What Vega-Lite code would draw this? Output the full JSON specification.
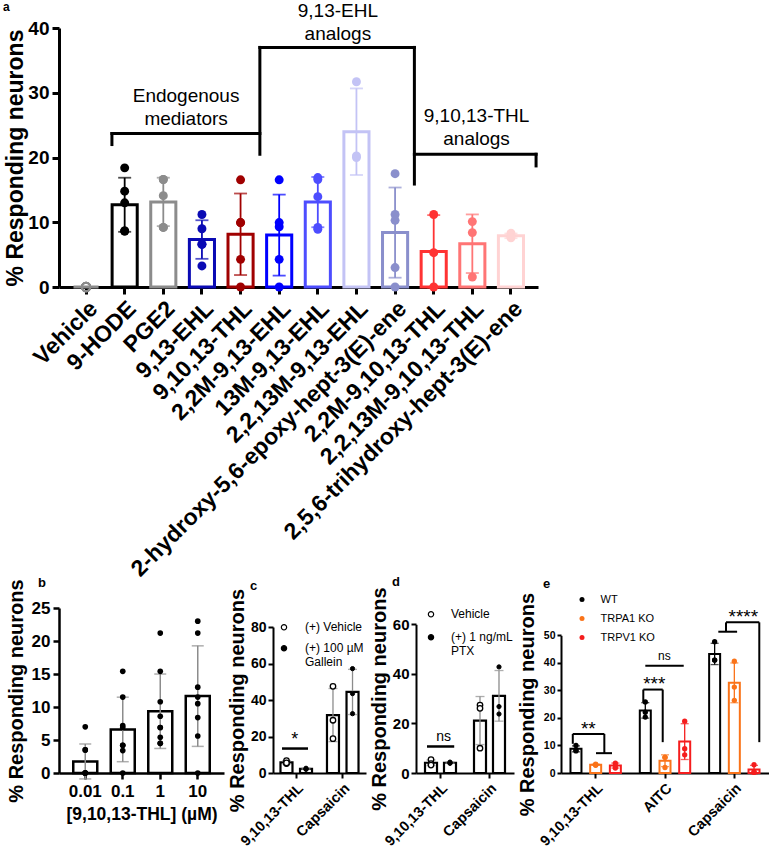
{
"$schema": "https://vega.github.io/schema/vega-lite/v6.json",
"background": "white",
"padding": {"left": 3, "top": 0, "right": 0, "bottom": 0},
"config": {
  "font": "Liberation Sans",
  "view": {"stroke": null},
  "axis": {"labelFont": "Liberation Sans", "titleFont": "Liberation Sans", "labelFontWeight": "bold", "titleFontWeight": "bold", "labelColor": "black", "titleColor": "black", "domainColor": "black", "tickColor": "black", "grid": false},
  "legend": {"labelFont": "Liberation Sans", "labelColor": "black", "labelFontWeight": "normal"},
  "title": {"font": "Liberation Sans", "fontWeight": "bold", "color": "black", "anchor": "start", "frame": "group"}
},
"datasets": {
  "a": [
    {"compound": "Vehicle", "value": 0}, {"compound": "Vehicle", "value": 0}, {"compound": "Vehicle", "value": 0}, {"compound": "Vehicle", "value": 0}, {"compound": "Vehicle", "value": 0},
    {"compound": "9-HODE", "value": 18.4}, {"compound": "9-HODE", "value": 14.8}, {"compound": "9-HODE", "value": 13.0}, {"compound": "9-HODE", "value": 8.65}, {"compound": "9-HODE", "value": 8.65},
    {"compound": "PGE2", "value": 16.6}, {"compound": "PGE2", "value": 16.6}, {"compound": "PGE2", "value": 14.1}, {"compound": "PGE2", "value": 9.2}, {"compound": "PGE2", "value": 9.2},
    {"compound": "9,13-EHL", "value": 11.2}, {"compound": "9,13-EHL", "value": 9.0}, {"compound": "9,13-EHL", "value": 6.6}, {"compound": "9,13-EHL", "value": 6.6}, {"compound": "9,13-EHL", "value": 3.25},
    {"compound": "9,10,13-THL", "value": 16.55}, {"compound": "9,10,13-THL", "value": 9.95}, {"compound": "9,10,13-THL", "value": 9.95}, {"compound": "9,10,13-THL", "value": 4.27}, {"compound": "9,10,13-THL", "value": 0},
    {"compound": "2,2M-9,13-EHL", "value": 16.55}, {"compound": "2,2M-9,13-EHL", "value": 9.3}, {"compound": "2,2M-9,13-EHL", "value": 9.95}, {"compound": "2,2M-9,13-EHL", "value": 4.27}, {"compound": "2,2M-9,13-EHL", "value": 0},
    {"compound": "13M-9,13-EHL", "value": 16.9}, {"compound": "13M-9,13-EHL", "value": 16.6}, {"compound": "13M-9,13-EHL", "value": 13.95}, {"compound": "13M-9,13-EHL", "value": 8.9}, {"compound": "13M-9,13-EHL", "value": 9.2},
    {"compound": "2,2,13M-9,13-EHL", "value": 31.7}, {"compound": "2,2,13M-9,13-EHL", "value": 20.0}, {"compound": "2,2,13M-9,13-EHL", "value": 20.25},
    {"compound": "2-hydroxy-5,6-epoxy-hept-3(E)-ene", "value": 17.5}, {"compound": "2-hydroxy-5,6-epoxy-hept-3(E)-ene", "value": 11.2}, {"compound": "2-hydroxy-5,6-epoxy-hept-3(E)-ene", "value": 10.3}, {"compound": "2-hydroxy-5,6-epoxy-hept-3(E)-ene", "value": 3.0}, {"compound": "2-hydroxy-5,6-epoxy-hept-3(E)-ene", "value": 0},
    {"compound": "2,2M-9,10,13-THL", "value": 11.2}, {"compound": "2,2M-9,10,13-THL", "value": 5.3}, {"compound": "2,2M-9,10,13-THL", "value": 0},
    {"compound": "2,2,13M-9,10,13-THL", "value": 10.1}, {"compound": "2,2,13M-9,10,13-THL", "value": 8.4}, {"compound": "2,2,13M-9,10,13-THL", "value": 1.55},
    {"compound": "2,5,6-trihydroxy-hept-3(E)-ene", "value": 8.3}, {"compound": "2,5,6-trihydroxy-hept-3(E)-ene", "value": 7.8}, {"compound": "2,5,6-trihydroxy-hept-3(E)-ene", "value": 7.6}
  ],
  "a_brk": [
    {"ax": 0.67, "ax2": 0.67, "value": 22.0, "value2": 23.7},
    {"ax": 0.67, "ax2": 4.5, "value": 23.7, "value2": 23.7},
    {"ax": 4.5, "ax2": 4.5, "value": 20.5, "value2": 37.0},
    {"ax": 4.5, "ax2": 8.5, "value": 37.0, "value2": 37.0},
    {"ax": 8.5, "ax2": 8.5, "value": 15.9, "value2": 37.0},
    {"ax": 8.5, "ax2": 11.65, "value": 20.5, "value2": 20.5},
    {"ax": 11.65, "ax2": 11.65, "value": 18.7, "value2": 20.5}
  ],
  "a_txt": [
    {"ax": 2.59, "value": 29.5, "label": "Endogenous\nmediators"},
    {"ax": 6.52, "value": 42.7, "label": "9,13-EHL\nanalogs"},
    {"ax": 10.11, "value": 26.4, "label": "9,10,13-THL\nanalogs"}
  ],
  "b": [
    {"conc": "0.01", "value": 7.0}, {"conc": "0.01", "value": 3.5}, {"conc": "0.01", "value": 3.5}, {"conc": "0.01", "value": 0}, {"conc": "0.01", "value": 0}, {"conc": "0.01", "value": 0}, {"conc": "0.01", "value": 0}, {"conc": "0.01", "value": 0},
    {"conc": "0.1", "value": 15.4}, {"conc": "0.1", "value": 11.5}, {"conc": "0.1", "value": 7.2}, {"conc": "0.1", "value": 6.9}, {"conc": "0.1", "value": 4.2}, {"conc": "0.1", "value": 4.2}, {"conc": "0.1", "value": 3.4}, {"conc": "0.1", "value": 0},
    {"conc": "1", "value": 21.2}, {"conc": "1", "value": 15.4}, {"conc": "1", "value": 10.8}, {"conc": "1", "value": 8.6}, {"conc": "1", "value": 6.9}, {"conc": "1", "value": 6.9}, {"conc": "1", "value": 5.4}, {"conc": "1", "value": 4.5}, {"conc": "1", "value": 4.5},
    {"conc": "10", "value": 23.0}, {"conc": "10", "value": 21.2}, {"conc": "10", "value": 13.0}, {"conc": "10", "value": 11.5}, {"conc": "10", "value": 10.5}, {"conc": "10", "value": 8.4}, {"conc": "10", "value": 5.6}, {"conc": "10", "value": 0}
  ],
  "c": [
    {"cat": "9,10,13-THL", "cond": "(+) Vehicle", "value": 5.2}, {"cat": "9,10,13-THL", "cond": "(+) Vehicle", "value": 6.8}, {"cat": "9,10,13-THL", "cond": "(+) Vehicle", "value": 5.5},
    {"cat": "9,10,13-THL", "cond": "(+) 100 µM Gallein", "value": 2.6}, {"cat": "9,10,13-THL", "cond": "(+) 100 µM Gallein", "value": 2.0}, {"cat": "9,10,13-THL", "cond": "(+) 100 µM Gallein", "value": 2.2},
    {"cat": "Capsaicin", "cond": "(+) Vehicle", "value": 47.5}, {"cat": "Capsaicin", "cond": "(+) Vehicle", "value": 28.9}, {"cat": "Capsaicin", "cond": "(+) Vehicle", "value": 18.8},
    {"cat": "Capsaicin", "cond": "(+) 100 µM Gallein", "value": 57.2}, {"cat": "Capsaicin", "cond": "(+) 100 µM Gallein", "value": 43.5}, {"cat": "Capsaicin", "cond": "(+) 100 µM Gallein", "value": 32.5}
  ],
  "c_ann": [{"ax": -0.306, "ax2": 0.253, "value": 13.4, "value2": 13.4}],
  "c_txt": [{"ax": -0.033, "value": 17.9, "label": "*"}],
  "d": [
    {"cat": "9,10,13-THL", "cond": "Vehicle", "value": 5.4}, {"cat": "9,10,13-THL", "cond": "Vehicle", "value": 3.8}, {"cat": "9,10,13-THL", "cond": "Vehicle", "value": 3.2},
    {"cat": "9,10,13-THL", "cond": "(+) 1 ng/mL PTX", "value": 4.4}, {"cat": "9,10,13-THL", "cond": "(+) 1 ng/mL PTX", "value": 4.1}, {"cat": "9,10,13-THL", "cond": "(+) 1 ng/mL PTX", "value": 3.9},
    {"cat": "Capsaicin", "cond": "Vehicle", "value": 27.4}, {"cat": "Capsaicin", "cond": "Vehicle", "value": 26.1}, {"cat": "Capsaicin", "cond": "Vehicle", "value": 10.0},
    {"cat": "Capsaicin", "cond": "(+) 1 ng/mL PTX", "value": 42.8}, {"cat": "Capsaicin", "cond": "(+) 1 ng/mL PTX", "value": 26.8}, {"cat": "Capsaicin", "cond": "(+) 1 ng/mL PTX", "value": 23.8}
  ],
  "d_ann": [{"ax": -0.276, "ax2": 0.28, "value": 10.7, "value2": 10.7}],
  "d_txt": [{"ax": 0.065, "value": 14.7, "label": "ns"}],
  "e": [
    {"cat": "9,10,13-THL", "geno": "WT", "value": 10.0}, {"cat": "9,10,13-THL", "geno": "WT", "value": 8.0}, {"cat": "9,10,13-THL", "geno": "WT", "value": 8.3},
    {"cat": "9,10,13-THL", "geno": "TRPA1 KO", "value": 3.2}, {"cat": "9,10,13-THL", "geno": "TRPA1 KO", "value": 3.0}, {"cat": "9,10,13-THL", "geno": "TRPA1 KO", "value": 2.8},
    {"cat": "9,10,13-THL", "geno": "TRPV1 KO", "value": 3.6}, {"cat": "9,10,13-THL", "geno": "TRPV1 KO", "value": 1.8}, {"cat": "9,10,13-THL", "geno": "TRPV1 KO", "value": 2.7},
    {"cat": "AITC", "geno": "WT", "value": 25.8}, {"cat": "AITC", "geno": "WT", "value": 20.3}, {"cat": "AITC", "geno": "WT", "value": 22.1},
    {"cat": "AITC", "geno": "TRPA1 KO", "value": 5.7}, {"cat": "AITC", "geno": "TRPA1 KO", "value": 5.7}, {"cat": "AITC", "geno": "TRPA1 KO", "value": 2.0},
    {"cat": "AITC", "geno": "TRPV1 KO", "value": 18.8}, {"cat": "AITC", "geno": "TRPV1 KO", "value": 8.8}, {"cat": "AITC", "geno": "TRPV1 KO", "value": 6.6},
    {"cat": "Capsaicin", "geno": "WT", "value": 47.7}, {"cat": "Capsaicin", "geno": "WT", "value": 41.0}, {"cat": "Capsaicin", "geno": "WT", "value": 41.0},
    {"cat": "Capsaicin", "geno": "TRPA1 KO", "value": 40.6}, {"cat": "Capsaicin", "geno": "TRPA1 KO", "value": 31.2}, {"cat": "Capsaicin", "geno": "TRPA1 KO", "value": 26.4},
    {"cat": "Capsaicin", "geno": "TRPV1 KO", "value": 3.0}, {"cat": "Capsaicin", "geno": "TRPV1 KO", "value": 0.2}, {"cat": "Capsaicin", "geno": "TRPV1 KO", "value": 0.5}
  ],
  "e_ann": [
    {"ax": -0.33, "ax2": -0.33, "value": 10.6, "value2": 14.2},
    {"ax": -0.33, "ax2": 0.125, "value": 14.2, "value2": 14.2},
    {"ax": 0.125, "ax2": 0.125, "value": 7.2, "value2": 14.2},
    {"ax": 0.005, "ax2": 0.236, "value": 7.2, "value2": 7.2},
    {"ax": 0.687, "ax2": 0.687, "value": 25.8, "value2": 30.3},
    {"ax": 0.687, "ax2": 0.967, "value": 30.3, "value2": 30.3},
    {"ax": 0.967, "ax2": 0.967, "value": 11.2, "value2": 30.3},
    {"ax": 0.716, "ax2": 1.27, "value": 38.9, "value2": 38.9},
    {"ax": 1.88, "ax2": 2.36, "value": 54.7, "value2": 54.7},
    {"ax": 2.36, "ax2": 2.36, "value": 11.2, "value2": 54.7},
    {"ax": 1.88, "ax2": 1.88, "value": 51.3, "value2": 54.7},
    {"ax": 1.769, "ax2": 2.04, "value": 51.3, "value2": 51.3}
  ],
  "e_txt": [
    {"ax": -0.106, "value": 15.9, "label": "**"},
    {"ax": 0.846, "value": 32.3, "label": "***"},
    {"ax": 0.99, "value": 42.4, "label": "ns"},
    {"ax": 2.13, "value": 56.6, "label": "****"}
  ]
},
"spacing": -5,
"resolve": {"scale": {"color": "independent", "fill": "independent", "stroke": "independent", "xOffset": "independent"}, "legend": {"fill": "independent"}},
"vconcat": [
  {
    "width": 479, "height": 259,
    "title": {"text": "a", "fontSize": 12, "dx": -56, "offset": -12},
    "encoding": {"y": {"field": "value", "type": "quantitative", "scale": {"domain": [0, 40], "nice": false}, "axis": {"title": "% Responding neurons", "titleFontSize": 23, "labelFontSize": 19, "values": [0, 10, 20, 30, 40], "domainWidth": 3, "tickWidth": 3, "tickSize": 7, "labelPadding": 3, "titlePadding": 0}}},
    "layer": [
      {"layer": [
        {"data": {"name": "a"},
         "transform": [{"aggregate": [{"op": "mean", "field": "value", "as": "value"}], "groupby": ["compound"]}],
         "mark": {"type": "bar", "fill": "white", "strokeWidth": 3, "width": {"band": 0.65}},
         "encoding": {
           "x": {"field": "compound", "type": "nominal", "sort": ["Vehicle","9-HODE","PGE2","9,13-EHL","9,10,13-THL","2,2M-9,13-EHL","13M-9,13-EHL","2,2,13M-9,13-EHL","2-hydroxy-5,6-epoxy-hept-3(E)-ene","2,2M-9,10,13-THL","2,2,13M-9,10,13-THL","2,5,6-trihydroxy-hept-3(E)-ene"], "scale": {"paddingInner": 0, "paddingOuter": 0.2}, "axis": {"title": null, "labelAngle": -45, "labelFontSize": 23, "labelLimit": 600, "domainWidth": 3, "tickWidth": 3, "tickSize": 7, "labelPadding": 3}},
           "stroke": {"field": "compound", "type": "nominal", "legend": null, "scale": {"domain": ["Vehicle","9-HODE","PGE2","9,13-EHL","9,10,13-THL","2,2M-9,13-EHL","13M-9,13-EHL","2,2,13M-9,13-EHL","2-hydroxy-5,6-epoxy-hept-3(E)-ene","2,2M-9,10,13-THL","2,2,13M-9,10,13-THL","2,5,6-trihydroxy-hept-3(E)-ene"], "range": ["#8c8c8c","#000000","#8c8c8c","#0a0ab4","#a00000","#0000ff","#4d4dff","#c3c3f5","#8a8fcc","#ff3333","#ff7575","#ffd3d3"]}}
         }},
        {"data": {"name": "a"},
         "mark": {"type": "errorbar", "extent": "stdev", "ticks": true, "size": 13, "thickness": 1.8},
         "encoding": {
           "x": {"field": "compound", "type": "nominal", "sort": ["Vehicle","9-HODE","PGE2","9,13-EHL","9,10,13-THL","2,2M-9,13-EHL","13M-9,13-EHL","2,2,13M-9,13-EHL","2-hydroxy-5,6-epoxy-hept-3(E)-ene","2,2M-9,10,13-THL","2,2,13M-9,10,13-THL","2,5,6-trihydroxy-hept-3(E)-ene"]},
           "color": {"field": "compound", "type": "nominal", "legend": null, "scale": {"domain": ["Vehicle","9-HODE","PGE2","9,13-EHL","9,10,13-THL","2,2M-9,13-EHL","13M-9,13-EHL","2,2,13M-9,13-EHL","2-hydroxy-5,6-epoxy-hept-3(E)-ene","2,2M-9,10,13-THL","2,2,13M-9,10,13-THL","2,5,6-trihydroxy-hept-3(E)-ene"], "range": ["#8c8c8c","#000000","#8c8c8c","#0a0ab4","#a00000","#0000ff","#4d4dff","#c3c3f5","#8a8fcc","#ff3333","#ff7575","#ffd3d3"]}}
         }},
        {"data": {"name": "a"},
         "transform": [{"filter": "datum.compound !== 'Vehicle'"}],
         "mark": {"type": "point", "shape": "circle", "filled": true, "size": 80, "opacity": 1},
         "encoding": {
           "x": {"field": "compound", "type": "nominal", "sort": ["Vehicle","9-HODE","PGE2","9,13-EHL","9,10,13-THL","2,2M-9,13-EHL","13M-9,13-EHL","2,2,13M-9,13-EHL","2-hydroxy-5,6-epoxy-hept-3(E)-ene","2,2M-9,10,13-THL","2,2,13M-9,10,13-THL","2,5,6-trihydroxy-hept-3(E)-ene"]},
           "fill": {"field": "compound", "type": "nominal", "legend": null, "scale": {"domain": ["Vehicle","9-HODE","PGE2","9,13-EHL","9,10,13-THL","2,2M-9,13-EHL","13M-9,13-EHL","2,2,13M-9,13-EHL","2-hydroxy-5,6-epoxy-hept-3(E)-ene","2,2M-9,10,13-THL","2,2,13M-9,10,13-THL","2,5,6-trihydroxy-hept-3(E)-ene"], "range": ["#8c8c8c","#000000","#8c8c8c","#0a0ab4","#a00000","#0000ff","#4d4dff","#c3c3f5","#8a8fcc","#ff3333","#ff7575","#ffd3d3"]}}
         }},
        {"data": {"name": "a"},
         "transform": [{"filter": "datum.compound === 'Vehicle'"}],
         "mark": {"type": "point", "shape": "circle", "filled": false, "size": 70, "stroke": "#8c8c8c", "strokeWidth": 2, "opacity": 1},
         "encoding": {
           "x": {"field": "compound", "type": "nominal", "sort": ["Vehicle","9-HODE","PGE2","9,13-EHL","9,10,13-THL","2,2M-9,13-EHL","13M-9,13-EHL","2,2,13M-9,13-EHL","2-hydroxy-5,6-epoxy-hept-3(E)-ene","2,2M-9,10,13-THL","2,2,13M-9,10,13-THL","2,5,6-trihydroxy-hept-3(E)-ene"]}
         }}
      ]},
      {"layer": [
        {"data": {"name": "a_brk"},
         "mark": {"type": "rule", "strokeWidth": 3, "color": "black", "strokeCap": "square"},
         "encoding": {"x": {"field": "ax", "type": "quantitative", "scale": {"domain": [-0.7, 11.7], "nice": false, "zero": false}, "axis": null}, "x2": {"field": "ax2"}, "y2": {"field": "value2"}}},
        {"data": {"name": "a_txt"},
         "mark": {"type": "text", "fontSize": 19, "lineBreak": "\n", "lineHeight": 23, "color": "black", "baseline": "middle", "font": "Liberation Sans"},
         "encoding": {"x": {"field": "ax", "type": "quantitative", "scale": {"domain": [-0.7, 11.7], "nice": false, "zero": false}, "axis": null}, "text": {"field": "label"}}}
      ]}
    ],
    "resolve": {"scale": {"x": "independent"}}
  },
  {
    "spacing": 3,
    "resolve": {"scale": {"color": "independent", "fill": "independent", "stroke": "independent", "xOffset": "independent"}, "legend": {"fill": "independent"}},
    "hconcat": [
      {
        "width": 165, "height": 165,
        "title": {"text": "b", "fontSize": 13, "dx": -21, "offset": -11},
        "data": {"name": "b"},
        "encoding": {
          "x": {"field": "conc", "type": "nominal", "sort": ["0.01", "0.1", "1", "10"], "scale": {"paddingInner": 0, "paddingOuter": 0.2}, "axis": {"title": "[9,10,13-THL] (µM)", "titleFontSize": 17.5, "labelFontSize": 17, "labelAngle": 0, "domainWidth": 2.5, "tickWidth": 2.5, "tickSize": 6, "labelPadding": 4, "titlePadding": 6}},
          "y": {"field": "value", "type": "quantitative", "scale": {"domain": [0, 25], "nice": false}, "axis": {"title": "% Responding neurons", "titleFontSize": 20, "labelFontSize": 17, "values": [0, 5, 10, 15, 20, 25], "domainWidth": 2.5, "tickWidth": 2.5, "tickSize": 6, "labelPadding": 3, "titlePadding": 5}}
        },
        "layer": [
          {"transform": [{"aggregate": [{"op": "mean", "field": "value", "as": "value"}], "groupby": ["conc"]}],
           "mark": {"type": "bar", "fill": "white", "stroke": "black", "strokeWidth": 2.5, "width": {"band": 0.64}}},
          {"mark": {"type": "errorbar", "extent": "stdev", "ticks": true, "size": 12, "thickness": 1.5, "color": "#8c8c8c"}},
          {"mark": {"type": "point", "shape": "circle", "filled": true, "color": "black", "size": 32, "opacity": 1}}
        ]
      },
      {
        "width": 93, "height": 165,
        "title": {"text": "c", "fontSize": 13, "dx": -23, "offset": -4.5},
        "encoding": {"y": {"field": "value", "type": "quantitative", "scale": {"domain": [0, 80], "nice": false, "range": [165, 19]}, "axis": {"title": "% Responding neurons", "titleFontSize": 20, "labelFontSize": 14, "values": [0, 20, 40, 60, 80], "domainWidth": 2, "tickWidth": 2, "tickSize": 5, "labelPadding": 2, "titlePadding": 3}}},
        "layer": [
          {"layer": [
            {"data": {"name": "c"},
             "transform": [{"aggregate": [{"op": "mean", "field": "value", "as": "value"}], "groupby": ["cat", "cond"]}],
             "mark": {"type": "bar", "fill": "white", "stroke": "black", "strokeWidth": 2.2, "width": 12},
             "encoding": {
               "x": {"field": "cat", "type": "nominal", "sort": ["9,10,13-THL", "Capsaicin"], "scale": {"paddingInner": 0, "paddingOuter": 0}, "axis": {"title": null, "labelAngle": -45, "labelFontSize": 14.5, "domainWidth": 2, "tickWidth": 2, "tickSize": 5, "labelPadding": 3}},
               "xOffset": {"field": "cond", "type": "nominal", "scale": {"domain": ["(+) Vehicle", "(+) 100 µM Gallein"], "paddingInner": 0, "paddingOuter": 0.19}}
             }},
            {"data": {"name": "c"},
             "mark": {"type": "errorbar", "extent": "stdev", "ticks": true, "size": 9, "thickness": 1.3, "color": "#8c8c8c"},
             "encoding": {
               "x": {"field": "cat", "type": "nominal", "sort": ["9,10,13-THL", "Capsaicin"]},
               "xOffset": {"field": "cond", "type": "nominal", "scale": {"domain": ["(+) Vehicle", "(+) 100 µM Gallein"], "paddingInner": 0, "paddingOuter": 0.19}}
             }},
            {"data": {"name": "c"},
             "transform": [{"filter": "datum.cond === '(+) Vehicle'"}],
             "mark": {"type": "point", "shape": "circle", "filled": true, "stroke": "black", "strokeWidth": 1.3, "size": 30, "opacity": 1},
             "encoding": {
               "x": {"field": "cat", "type": "nominal", "sort": ["9,10,13-THL", "Capsaicin"]},
               "xOffset": {"field": "cond", "type": "nominal", "scale": {"domain": ["(+) Vehicle", "(+) 100 µM Gallein"], "paddingInner": 0, "paddingOuter": 0.19}},
               "fill": {"field": "cond", "type": "nominal", "scale": {"domain": ["(+) Vehicle", "(+) 100 µM Gallein"], "range": ["white", "black"]}, "legend": {"title": null, "orient": "none", "legendX": 5, "legendY": 13.3, "symbolType": "circle", "symbolSize": 28, "symbolStrokeColor": "black", "symbolStrokeWidth": 1.2, "labelFontSize": 12, "labelOffset": 15, "rowPadding": 9, "padding": 0, "labelLimit": 300, "labelExpr": "datum.label == '(+) 100 µM Gallein' ? ['(+) 100 µM', 'Gallein'] : datum.label"}}
             }},
            {"data": {"name": "c"},
             "transform": [{"filter": "datum.cond !== '(+) Vehicle'"}],
             "mark": {"type": "point", "shape": "circle", "filled": true, "stroke": "black", "strokeWidth": 1, "size": 18, "opacity": 1},
             "encoding": {
               "x": {"field": "cat", "type": "nominal", "sort": ["9,10,13-THL", "Capsaicin"]},
               "xOffset": {"field": "cond", "type": "nominal", "scale": {"domain": ["(+) Vehicle", "(+) 100 µM Gallein"], "paddingInner": 0, "paddingOuter": 0.19}},
               "fill": {"field": "cond", "type": "nominal", "scale": {"domain": ["(+) Vehicle", "(+) 100 µM Gallein"], "range": ["white", "black"]}, "legend": {"title": null, "orient": "none", "legendX": 5, "legendY": 13.3, "symbolType": "circle", "symbolSize": 28, "symbolStrokeColor": "black", "symbolStrokeWidth": 1.2, "labelFontSize": 12, "labelOffset": 15, "rowPadding": 9, "padding": 0, "labelLimit": 300, "labelExpr": "datum.label == '(+) 100 µM Gallein' ? ['(+) 100 µM', 'Gallein'] : datum.label"}}
             }}
          ]},
          {"layer": [
            {"data": {"name": "c_ann"},
             "mark": {"type": "rule", "strokeWidth": 2.5, "color": "black"},
             "encoding": {"x": {"field": "ax", "type": "quantitative", "scale": {"domain": [-0.5, 1.5], "nice": false, "zero": false}, "axis": null}, "x2": {"field": "ax2"}, "y2": {"field": "value2"}}},
            {"data": {"name": "c_txt"},
             "mark": {"type": "text", "fontSize": 18, "color": "black", "baseline": "middle"},
             "encoding": {"x": {"field": "ax", "type": "quantitative", "scale": {"domain": [-0.5, 1.5], "nice": false, "zero": false}, "axis": null}, "text": {"field": "label"}}}
          ]}
        ],
        "resolve": {"scale": {"x": "independent"}}
      },
      {
        "width": 98, "height": 165,
        "title": {"text": "d", "fontSize": 13, "dx": -24, "offset": -2.4},
        "encoding": {"y": {"field": "value", "type": "quantitative", "scale": {"domain": [0, 60], "nice": false, "range": [165, 16.3]}, "axis": {"title": "% Responding neurons", "titleFontSize": 20, "labelFontSize": 15, "values": [0, 20, 40, 60], "domainWidth": 2, "tickWidth": 2, "tickSize": 5, "labelPadding": 2, "titlePadding": 3}}},
        "layer": [
          {"layer": [
            {"data": {"name": "d"},
             "transform": [{"aggregate": [{"op": "mean", "field": "value", "as": "value"}], "groupby": ["cat", "cond"]}],
             "mark": {"type": "bar", "fill": "white", "stroke": "black", "strokeWidth": 2.2, "width": 12},
             "encoding": {
               "x": {"field": "cat", "type": "nominal", "sort": ["9,10,13-THL", "Capsaicin"], "scale": {"paddingInner": 0, "paddingOuter": 0}, "axis": {"title": null, "labelAngle": -45, "labelFontSize": 14.5, "domainWidth": 2, "tickWidth": 2, "tickSize": 5, "labelPadding": 3}},
               "xOffset": {"field": "cond", "type": "nominal", "scale": {"domain": ["Vehicle", "(+) 1 ng/mL PTX"], "paddingInner": 0, "paddingOuter": 0.29}}
             }},
            {"data": {"name": "d"},
             "mark": {"type": "errorbar", "extent": "stdev", "ticks": true, "size": 9, "thickness": 1.3, "color": "#8c8c8c"},
             "encoding": {
               "x": {"field": "cat", "type": "nominal", "sort": ["9,10,13-THL", "Capsaicin"]},
               "xOffset": {"field": "cond", "type": "nominal", "scale": {"domain": ["Vehicle", "(+) 1 ng/mL PTX"], "paddingInner": 0, "paddingOuter": 0.29}}
             }},
            {"data": {"name": "d"},
             "transform": [{"filter": "datum.cond === 'Vehicle'"}],
             "mark": {"type": "point", "shape": "circle", "filled": true, "stroke": "black", "strokeWidth": 1.3, "size": 30, "opacity": 1},
             "encoding": {
               "x": {"field": "cat", "type": "nominal", "sort": ["9,10,13-THL", "Capsaicin"]},
               "xOffset": {"field": "cond", "type": "nominal", "scale": {"domain": ["Vehicle", "(+) 1 ng/mL PTX"], "paddingInner": 0, "paddingOuter": 0.29}},
               "fill": {"field": "cond", "type": "nominal", "scale": {"domain": ["Vehicle", "(+) 1 ng/mL PTX"], "range": ["white", "black"]}, "legend": {"title": null, "orient": "none", "legendX": 9, "legendY": 0.3, "symbolType": "circle", "symbolSize": 28, "symbolStrokeColor": "black", "symbolStrokeWidth": 1.2, "labelFontSize": 12, "labelOffset": 14, "rowPadding": 11, "padding": 0, "labelLimit": 300, "labelExpr": "datum.label == '(+) 1 ng/mL PTX' ? ['(+) 1 ng/mL', 'PTX'] : datum.label"}}
             }},
            {"data": {"name": "d"},
             "transform": [{"filter": "datum.cond !== 'Vehicle'"}],
             "mark": {"type": "point", "shape": "circle", "filled": true, "stroke": "black", "strokeWidth": 1, "size": 18, "opacity": 1},
             "encoding": {
               "x": {"field": "cat", "type": "nominal", "sort": ["9,10,13-THL", "Capsaicin"]},
               "xOffset": {"field": "cond", "type": "nominal", "scale": {"domain": ["Vehicle", "(+) 1 ng/mL PTX"], "paddingInner": 0, "paddingOuter": 0.29}},
               "fill": {"field": "cond", "type": "nominal", "scale": {"domain": ["Vehicle", "(+) 1 ng/mL PTX"], "range": ["white", "black"]}, "legend": {"title": null, "orient": "none", "legendX": 9, "legendY": 0.3, "symbolType": "circle", "symbolSize": 28, "symbolStrokeColor": "black", "symbolStrokeWidth": 1.2, "labelFontSize": 12, "labelOffset": 14, "rowPadding": 11, "padding": 0, "labelLimit": 300, "labelExpr": "datum.label == '(+) 1 ng/mL PTX' ? ['(+) 1 ng/mL', 'PTX'] : datum.label"}}
             }}
          ]},
          {"layer": [
            {"data": {"name": "d_ann"},
             "mark": {"type": "rule", "strokeWidth": 2.5, "color": "black"},
             "encoding": {"x": {"field": "ax", "type": "quantitative", "scale": {"domain": [-0.5, 1.5], "nice": false, "zero": false}, "axis": null}, "x2": {"field": "ax2"}, "y2": {"field": "value2"}}},
            {"data": {"name": "d_txt"},
             "mark": {"type": "text", "fontSize": 14, "color": "black", "baseline": "middle"},
             "encoding": {"x": {"field": "ax", "type": "quantitative", "scale": {"domain": [-0.5, 1.5], "nice": false, "zero": false}, "axis": null}, "text": {"field": "label"}}}
          ]}
        ],
        "resolve": {"scale": {"x": "independent"}}
      },
      {
        "width": 208, "height": 165,
        "title": {"text": "e", "fontSize": 13, "dx": -18, "offset": 1.8},
        "encoding": {"y": {"field": "value", "type": "quantitative", "scale": {"domain": [0, 50], "nice": false, "range": [165, 27.3]}, "axis": {"title": "% Responding neurons", "titleFontSize": 20, "labelFontSize": 10.5, "values": [0, 10, 20, 30, 40, 50], "domainWidth": 2, "tickWidth": 2, "tickSize": 4, "labelPadding": 2, "titlePadding": 6}}},
        "layer": [
          {"layer": [
            {"data": {"name": "e"},
             "transform": [{"aggregate": [{"op": "mean", "field": "value", "as": "value"}], "groupby": ["cat", "geno"]}, {"filter": "datum.geno === 'WT'"}],
             "mark": {"type": "bar", "fill": "white", "stroke": "#000000", "strokeWidth": 2, "width": 11},
             "encoding": {
               "x": {"field": "cat", "type": "nominal", "sort": ["9,10,13-THL", "AITC", "Capsaicin"], "scale": {"paddingInner": 0, "paddingOuter": 0}, "axis": {"title": null, "labelAngle": -45, "labelFontSize": 14.5, "domainWidth": 2, "tickWidth": 2, "tickSize": 5, "labelPadding": 3}},
               "xOffset": {"field": "geno", "type": "nominal", "scale": {"domain": ["WT", "TRPA1 KO", "TRPV1 KO"], "paddingInner": 0, "paddingOuter": 0.26}}
             }},
            {"data": {"name": "e"},
             "transform": [{"aggregate": [{"op": "mean", "field": "value", "as": "value"}], "groupby": ["cat", "geno"]}, {"filter": "datum.geno === 'TRPA1 KO'"}],
             "mark": {"type": "bar", "fill": "white", "stroke": "#fa7319", "strokeWidth": 2, "width": 11},
             "encoding": {
               "x": {"field": "cat", "type": "nominal", "sort": ["9,10,13-THL", "AITC", "Capsaicin"]},
               "xOffset": {"field": "geno", "type": "nominal", "scale": {"domain": ["WT", "TRPA1 KO", "TRPV1 KO"], "paddingInner": 0, "paddingOuter": 0.26}}
             }},
            {"data": {"name": "e"},
             "transform": [{"aggregate": [{"op": "mean", "field": "value", "as": "value"}], "groupby": ["cat", "geno"]}, {"filter": "datum.geno === 'TRPV1 KO'"}],
             "mark": {"type": "bar", "fill": "white", "stroke": "#f51d1d", "strokeWidth": 2, "width": 11},
             "encoding": {
               "x": {"field": "cat", "type": "nominal", "sort": ["9,10,13-THL", "AITC", "Capsaicin"]},
               "xOffset": {"field": "geno", "type": "nominal", "scale": {"domain": ["WT", "TRPA1 KO", "TRPV1 KO"], "paddingInner": 0, "paddingOuter": 0.26}}
             }},
            {"data": {"name": "e"},
             "transform": [{"filter": "datum.geno === 'WT'"}],
             "mark": {"type": "errorbar", "extent": "stdev", "ticks": true, "size": 8, "thickness": 1.3, "color": "#000000"},
             "encoding": {
               "x": {"field": "cat", "type": "nominal", "sort": ["9,10,13-THL", "AITC", "Capsaicin"]},
               "xOffset": {"field": "geno", "type": "nominal", "scale": {"domain": ["WT", "TRPA1 KO", "TRPV1 KO"], "paddingInner": 0, "paddingOuter": 0.26}}
             }},
            {"data": {"name": "e"},
             "transform": [{"filter": "datum.geno === 'TRPA1 KO'"}],
             "mark": {"type": "errorbar", "extent": "stdev", "ticks": true, "size": 8, "thickness": 1.3, "color": "#fa7319"},
             "encoding": {
               "x": {"field": "cat", "type": "nominal", "sort": ["9,10,13-THL", "AITC", "Capsaicin"]},
               "xOffset": {"field": "geno", "type": "nominal", "scale": {"domain": ["WT", "TRPA1 KO", "TRPV1 KO"], "paddingInner": 0, "paddingOuter": 0.26}}
             }},
            {"data": {"name": "e"},
             "transform": [{"filter": "datum.geno === 'TRPV1 KO'"}],
             "mark": {"type": "errorbar", "extent": "stdev", "ticks": true, "size": 8, "thickness": 1.3, "color": "#f51d1d"},
             "encoding": {
               "x": {"field": "cat", "type": "nominal", "sort": ["9,10,13-THL", "AITC", "Capsaicin"]},
               "xOffset": {"field": "geno", "type": "nominal", "scale": {"domain": ["WT", "TRPA1 KO", "TRPV1 KO"], "paddingInner": 0, "paddingOuter": 0.26}}
             }},
            {"data": {"name": "e"},
             "mark": {"type": "point", "shape": "circle", "filled": true, "size": 28, "opacity": 1},
             "encoding": {
               "x": {"field": "cat", "type": "nominal", "sort": ["9,10,13-THL", "AITC", "Capsaicin"]},
               "xOffset": {"field": "geno", "type": "nominal", "scale": {"domain": ["WT", "TRPA1 KO", "TRPV1 KO"], "paddingInner": 0, "paddingOuter": 0.26}},
               "fill": {"field": "geno", "type": "nominal", "scale": {"domain": ["WT", "TRPA1 KO", "TRPV1 KO"], "range": ["#000000", "#fa7319", "#f51d1d"]}, "legend": {"title": null, "orient": "none", "legendX": 15.5, "legendY": -13.9, "symbolType": "circle", "symbolSize": 25, "symbolStrokeWidth": 0, "labelFontSize": 11, "labelOffset": 13, "rowPadding": 7, "padding": 0, "labelLimit": 300}}
             }}
          ]},
          {"layer": [
            {"data": {"name": "e_ann"},
             "mark": {"type": "rule", "strokeWidth": 2, "color": "black"},
             "encoding": {"x": {"field": "ax", "type": "quantitative", "scale": {"domain": [-0.5, 2.5], "nice": false, "zero": false}, "axis": null}, "x2": {"field": "ax2"}, "y2": {"field": "value2"}}},
            {"data": {"name": "e_txt"},
             "transform": [{"filter": "datum.label !== 'ns'"}],
             "mark": {"type": "text", "fontSize": 19, "color": "black", "baseline": "middle"},
             "encoding": {"x": {"field": "ax", "type": "quantitative", "scale": {"domain": [-0.5, 2.5], "nice": false, "zero": false}, "axis": null}, "text": {"field": "label"}}},
            {"data": {"name": "e_txt"},
             "transform": [{"filter": "datum.label === 'ns'"}],
             "mark": {"type": "text", "fontSize": 12, "color": "black", "baseline": "middle"},
             "encoding": {"x": {"field": "ax", "type": "quantitative", "scale": {"domain": [-0.5, 2.5], "nice": false, "zero": false}, "axis": null}, "text": {"field": "label"}}}
          ]}
        ],
        "resolve": {"scale": {"x": "independent"}}
      }
    ]
  }
]
}
